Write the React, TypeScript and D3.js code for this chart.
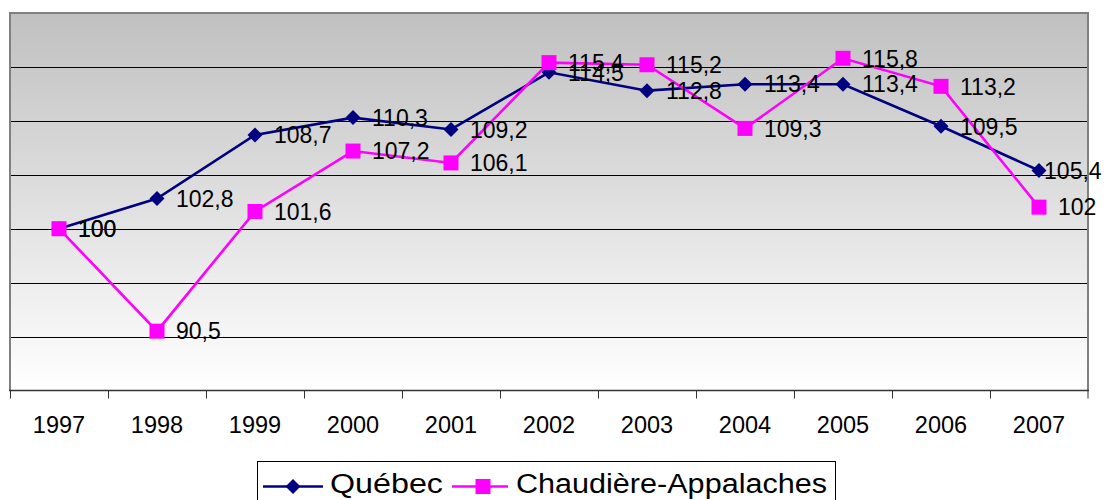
import React from "react";
import * as d3 from "d3";

const years = ["1997", "1998", "1999", "2000", "2001", "2002", "2003", "2004", "2005", "2006", "2007"];
const quebec = [100, 102.8, 108.7, 110.3, 109.2, 114.5, 112.8, 113.4, 113.4, 109.5, 105.4];
const chaudiere = [100, 90.5, 101.6, 107.2, 106.1, 115.4, 115.2, 109.3, 115.8, 113.2, 102];
const gridValues = [90, 95, 100, 105, 110, 115];
const seriesNames = ["Québec", "Chaudière-Appalaches"];

const W = 1107;
const H = 500;
const L = 10, R = 1088, T = 13, B = 390.5;
const FONT = "Arial, 'Liberation Sans', sans-serif";

const fmt = (v: number) => String(v).replace(".", ",");

export default function App() {
  const x = d3.scaleBand<string>().domain(years).range([L, R]).paddingInner(0).paddingOuter(0);
  const y = d3.scaleLinear().domain([85, 120]).range([B, T]);
  const cx = (i: number) => (x(years[i]) as number) + x.bandwidth() / 2;
  const line = d3.line<number>().x((_, i) => cx(i)).y((d) => y(d));
  const crisp = (v: number) => Math.round(v) + 0.5;

  const diamond = (px: number, py: number, s: number) =>
    `M${px},${py - s}L${px + s},${py}L${px},${py + s}L${px - s},${py}Z`;

  const labelX = (i: number, v: number) => {
    const w = fmt(v).length * 23 * 0.53;
    let lx = cx(i) + 19;
    if (lx + w > W - 2) lx = W - 2 - w;
    return lx;
  };

  const navy = "#000080";
  const magenta = "#ff00ff";

  return (
    <svg width={W} height={H} style={{ position: "fixed", left: 0, top: 0, background: "#fff" }} fontFamily={FONT}>
      <defs>
        <linearGradient id="bg" x1="0" y1="0" x2="0" y2="1">
          <stop offset="0" stopColor="#c0c0c0" />
          <stop offset="1" stopColor="#ffffff" />
        </linearGradient>
      </defs>
      <rect x={L} y={T} width={R - L} height={B - T} fill="url(#bg)" />
      {gridValues.map((g) => (
        <line key={g} x1={L} x2={R} y1={crisp(y(g))} y2={crisp(y(g))} stroke="#000" strokeWidth={1} />
      ))}
      {/* border */}
      <path d={`M${L},${B}L${L},${T}L${R},${T}L${R},${B}`} fill="none" stroke="#808080" strokeWidth={2} />
      {/* x axis */}
      <line x1={L - 1} x2={R + 1} y1={B} y2={B} stroke="#333" strokeWidth={1.5} />
      {years.map((yr) => (
        <line key={"t" + yr} x1={crisp(x(yr) as number)} x2={crisp(x(yr) as number)} y1={B} y2={B + 8} stroke="#333" strokeWidth={1} />
      ))}
      <line x1={R} x2={R} y1={B} y2={B + 8} stroke="#333" strokeWidth={1} />
      {years.map((yr, i) => (
        <text key={"l" + yr} x={cx(i)} y={432.5} textAnchor="middle" fontSize={23.5} fill="#000">
          {yr}
        </text>
      ))}
      {/* series */}
      <path d={line(quebec) as string} fill="none" stroke={navy} strokeWidth={2.6} />
      {quebec.map((v, i) => (
        <path key={"qd" + i} d={diamond(cx(i), y(v), 7.5)} fill={navy} />
      ))}
      <path d={line(chaudiere) as string} fill="none" stroke={magenta} strokeWidth={2.6} />
      {chaudiere.map((v, i) => (
        <rect key={"cs" + i} x={cx(i) - 7.5} y={y(v) - 7.5} width={15} height={15} fill={magenta} />
      ))}
      {/* labels */}
      {quebec.map((v, i) => (
        <text key={"ql" + i} x={labelX(i, v)} y={y(v)} dy="0.36em" fontSize={23} fill="#000">
          {fmt(v)}
        </text>
      ))}
      {chaudiere.map((v, i) => (
        <text key={"cl" + i} x={labelX(i, v)} y={y(v)} dy="0.36em" fontSize={23} fill="#000">
          {fmt(v)}
        </text>
      ))}
      {/* legend */}
      <rect x={257.5} y={461.5} width={578} height={50} fill="#fff" stroke="#000" strokeWidth={1} />
      <line x1={263} x2={323} y1={486.5} y2={486.5} stroke={navy} strokeWidth={2.6} />
      <path d={diamond(293, 486.5, 7.5)} fill={navy} />
      <text x={330} y={492.5} fontSize={27} textLength={113} lengthAdjust="spacingAndGlyphs" fill="#000">
        {seriesNames[0]}
      </text>
      <line x1={452} x2={508} y1={486.5} y2={486.5} stroke={magenta} strokeWidth={2.6} />
      <rect x={483 - 7.5} y={486.5 - 7.5} width={15} height={15} fill={magenta} />
      <text x={516} y={492.5} fontSize={27} textLength={311} lengthAdjust="spacingAndGlyphs" fill="#000">
        {seriesNames[1]}
      </text>
    </svg>
  );
}
